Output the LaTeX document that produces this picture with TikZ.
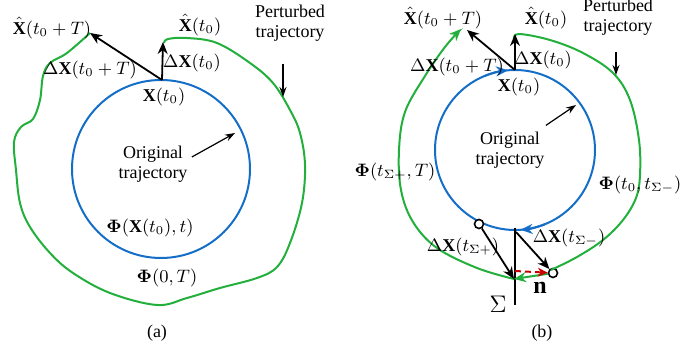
\documentclass[tikz,border=0pt]{standalone}
\usepackage{fontspec}
\setmainfont{Liberation Serif}
\usepackage{amsmath}
\usepackage{amssymb}
\usepackage{tikz}
\usetikzlibrary{positioning,arrows.meta,calc}
\definecolor{trajblue}{RGB}{20,110,200}
\definecolor{pertgreen}{RGB}{35,175,60}
\definecolor{nred}{RGB}{200,0,0}
\tikzset{
  orig/.style={line width=1pt,draw=trajblue},
  pert/.style={line width=1pt,draw=pertgreen},
  vec/.style={-{Stealth[length=6pt,width=5pt]},line width=0.9pt},
  ptr/.style={-{Stealth[length=5pt,width=3.5pt]},line width=0.6pt},
  nvec/.style={-{Stealth[length=5pt,width=4.5pt]},line width=1pt,nred,dashed,dash pattern=on 3pt off 2pt},
  lbl/.style={font=\fontsize{9}{10}\selectfont,inner sep=1pt},
  txt/.style={lbl,align=center},
  endpt/.style={circle,draw,fill=white,line width=0.8pt,inner sep=0pt,minimum size=4.5pt},
}

\begin{document}
\begin{tikzpicture}[x=0.5pt,y=-0.5pt]
  \useasboundingbox (0,0) rectangle (698,351);
  % Panel (a): orbit and perturbed path
  \coordinate (ca) at (161,169);
  \draw[orig] (ca) circle[radius=44.5pt];
  \coordinate (xa)   at (162,80);
  \coordinate (xha)  at (163,42);
  \coordinate (xhTa) at (90,33);
  \draw[pert] plot[smooth,tension=0.6] coordinates {(164,43) (168,39) (187,38) (217,43)
    (250,63) (273,83) (290,110) (300,133) (305,165) (302,203) (290,243) (277,267)
    (257,278) (220,288) (187,298) (157,305) (110,293) (73,273) (50,253) (30,227)
    (20,203) (16,170) (14,142) (21,127) (33,119) (40,100) (43,76) (50,63) (67,53) (90,33)};
  \draw[vec] (xa) -- (xha);
  \draw[vec] (xa) -- (xhTa);
  % Panel (a) labels
  \node[lbl] (lxhTa) at (52,28)  {$\hat{\mathbf{X}}(t_0+T)$};
  \node[lbl] (lxha)  at (200,25) {$\hat{\mathbf{X}}(t_0)$};
  \node[lbl] (ldTa)  at (90,70)  {$\Delta\mathbf{X}(t_0+T)$};
  \node[lbl] (lda)   at (192,63) {$\Delta\mathbf{X}(t_0)$};
  \node[lbl] (lxa)   at (164,97) {$\mathbf{X}(t_0)$};
  \node[txt] (lpta)  at (290,23) {Perturbed\\trajectory};
  \node[txt] (lota)  at (153,164) {Original\\trajectory};
  \node[lbl] (lphia) at (150,228) {$\boldsymbol{\Phi}(\mathbf{X}(t_0),t)$};
  \node[lbl] (lpsia) at (167,278) {$\boldsymbol{\Phi}(0,T)$};
  \node[lbl] (capa)  at (157,333) {(a)};
  \coordinate (pa) at (283,97);
  \coordinate (oa) at (235,133);
  \draw[ptr] ($(lpta.south -| pa)+(0,20)$) -- (pa);
  \draw[ptr] (lota.east) ++(2,-7) -- (oa);

  % Panel (b): orbit, section and jump
  \coordinate (cb) at (515,150);
  \draw[orig] (cb) circle[radius=40pt];
  \draw[orig,-{Stealth[length=6pt,width=5pt]}] (cb) ++(112:40pt) arc[start angle=112,end angle=95,radius=40pt];
  \draw[orig,-{Stealth[length=6pt,width=5pt]}] (cb) ++(292:40pt) arc[start angle=292,end angle=274,radius=40pt];
  \coordinate (xb)   at (515,70);
  \coordinate (xhb)  at (515,34);
  \coordinate (xhTb) at (467,30);
  \coordinate (st) at (515,228);
  \coordinate (sb) at (515,305);
  \coordinate (sq) at (516,232);
  \coordinate (sp) at (514,279);
  \coordinate (sn) at (515,271);
  \node[endpt] (xp) at (479,224) {};
  \node[endpt] (xm) at (553,273) {};
  \draw[line width=0.9pt] (st) -- (sb);
  \draw[pert] plot[smooth,tension=0.6] coordinates {(514,39) (519,34) (550,40) (583,53)
    (613,73) (630,100) (639,140) (640,175) (636,198) (623,220) (603,240) (577,257) (551,270)};
  \draw[pert,-{Stealth[length=6pt,width=5pt]}] (xm) -- (sp);
  \draw[pert,-{Stealth[length=6pt,width=5pt]}] plot[smooth,tension=0.6] coordinates {(514,279)
    (477,268) (437,248) (413,222) (401,190) (399,150) (405,112) (425,76) (445,47) (461,29)};
  \draw[vec] (xb) -- (xhb);
  \draw[vec] (xb) -- (xhTb);
  \draw[vec] (xp) -- (sp);
  \draw[vec] (sq) -- (xm);
  \draw[nvec] (sn) -- (xm);
  % Panel (b) labels
  \node[lbl] (lxhTb) at (443,18)  {$\hat{\mathbf{X}}(t_0+T)$};
  \node[lbl] (lxhb)  at (546,18)  {$\hat{\mathbf{X}}(t_0)$};
  \node[lbl] (ldTb)  at (457,67)  {$\Delta\mathbf{X}(t_0+T)$};
  \node[lbl] (ldb)   at (543,60)  {$\Delta\mathbf{X}(t_0)$};
  \node[lbl] (lxb)   at (519,87)  {$\mathbf{X}(t_0)$};
  \node[txt] (lptb)  at (618,17)  {Perturbed\\trajectory};
  \node[txt] (lotb)  at (510,150) {Original\\trajectory};
  \node[lbl] (lphp)  at (395,172) {$\boldsymbol{\Phi}(t_{\Sigma+},T)$};
  \node[lbl] (lphm)  at (640,185) {$\boldsymbol{\Phi}(t_0,t_{\Sigma-})$};
  \node[lbl] (ldp)   at (463,247) {$\Delta\mathbf{X}(t_{\Sigma+})$};
  \node[lbl] (ldm)   at (569,238) {$\Delta\mathbf{X}(t_{\Sigma-})$};
  \node[lbl,font=\fontsize{12}{12}\selectfont] (ln) at (540,288) {$\mathbf{n}$};
  \node[lbl,font=\fontsize{12}{12}\selectfont] (lsig) at (498,304) {$\Sigma$};
  \node[lbl] (capb)  at (542,333) {(b)};
  \coordinate (pb) at (616,75);
  \coordinate (ob) at (576,105);
  \draw[ptr] ($(lptb.south -| pb)+(0,14)$) -- (pb);
  \draw[ptr] ($(lotb.north east)+(-1,-4)$) -- (ob);
\end{tikzpicture}
\end{document}
